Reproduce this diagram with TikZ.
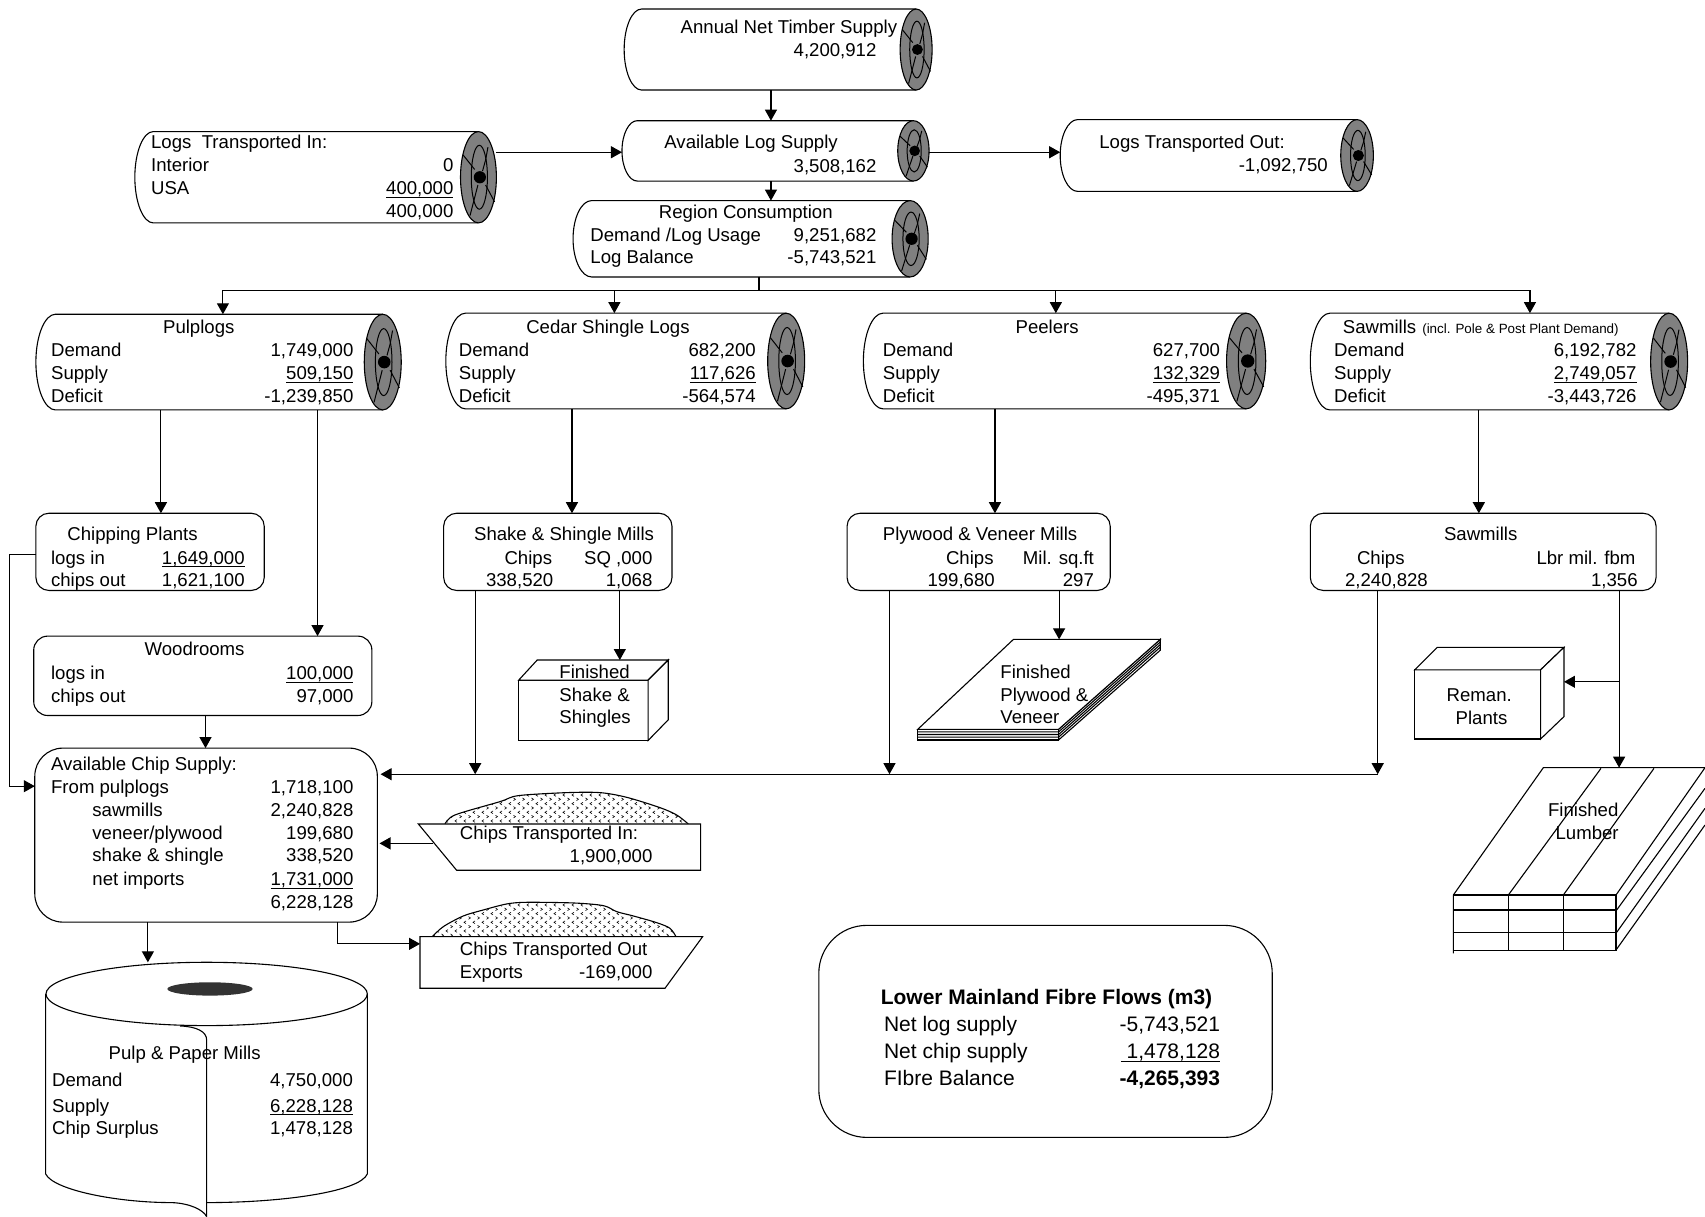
\documentclass[tikz,border=0pt]{standalone}
\usepackage{fontspec}
\setmainfont{Liberation Sans}
\usetikzlibrary{arrows.meta,fit,calc}
\newcounter{tn}
\newcommand\ul[1]{\underline{\smash{#1}}}
\newcommand\tl[3]{\stepcounter{tn}\node[txt,anchor=base west] (t\arabic{tn}) at (#1,#2+.7) {#3};}
\newcommand\tr[3]{\stepcounter{tn}\node[txt,anchor=base east] (t\arabic{tn}) at (#1,#2+.7) {#3};}
\newcommand\sumL[3]{\stepcounter{tn}\node[txtb,anchor=base west] (t\arabic{tn}) at (#1,#2+.7) {#3};}
\newcommand\sumR[3]{\stepcounter{tn}\node[txtb,anchor=base east] (t\arabic{tn}) at (#1,#2+.7) {#3};}
\newcommand\xat[2]{\coordinate (#1) at (#2,0);}
\newcommand\yat[2]{\coordinate (#1) at (0,#2);}
% name, left, top, bottom, end centre x, end half width, left curve width
\newcommand\logcyl[7]{%
  \pgfmathsetmacro\lgym{(#3+#4)/2}%
  \pgfmathsetmacro\lghh{(#4-#3)/2}%
  \draw[shp] (#5,#3) -- (#2+#7,#3) .. controls (#2+.45*#7,#3) and (#2,\lgym-.55*\lghh) .. (#2,\lgym)
     .. controls (#2,\lgym+.55*\lghh) and (#2+.45*#7,#4) .. (#2+#7,#4) -- (#5,#4);
  \draw[line width=.55pt,fill=logend] (#5,\lgym) circle[x radius=#6,y radius=\lghh];
  \begin{scope}[shift={(#5,\lgym)},xscale=#6,yscale=\lghh,line width=.5pt]
    \draw (0.05,0) circle[x radius=.45,y radius=.7];
    \draw (-.86,-.49) -- (-.21,-.17);
    \draw (.53,-.66) -- (.4,-.38) -- (.23,-.14);
    \draw (.4,.17) -- (.9,.54);
    \draw (-.03,.17) -- (-.47,.84);
  \end{scope}
  \fill (#5+.08*#6,\lgym) circle[radius=.34*#6];
  \node[fit={(#2,#3)(#5+#6,#4)},inner sep=0pt,outer sep=0pt] (#1) {};
}
\newcommand\rbox[6]{\node[draw,line width=.55pt,fill=white,rounded corners=#6,fit={(#2,#3)(#4,#5)},inner sep=0pt,outer sep=0pt] (#1) {};}
\newcommand\chipfill[2]{%
  \foreach \r in {0,...,#2}{
    \pgfmathsetmacro\yy{#1+13*\r}
    \pgfmathsetmacro\off{mod(\r,2)*13.5}
    \pgfmathtruncatemacro\sg{mod(\r,2)==0 ? 1 : -1}
    \foreach \c in {0,...,32}{
      \pgfmathsetmacro\xx{60+27*\c+\off}
      \draw[line width=.3pt] (\xx+\sg*3,\yy-4) -- (\xx-\sg*3,\yy) -- (\xx+\sg*3,\yy+4);
    }
  }
}
\definecolor{logend}{gray}{.5}
\definecolor{hole}{gray}{.2}
\tikzset{
  txt/.style={inner sep=0pt,outer sep=0pt,font=\fontsize{9.3}{11}\selectfont},
  txtb/.style={inner sep=0pt,outer sep=0pt,font=\fontsize{10.5}{12}\selectfont},
  shp/.style={line width=.55pt,fill=white},
  arr/.style={line width=.55pt,-{Triangle[length=5.5pt,width=6pt]}},
  con/.style={line width=.55pt}
}
\begin{document}
\begin{tikzpicture}[x=0.54369pt,y=-0.54369pt]
\useasboundingbox (0,0) rectangle (1568,1119.2);

% logs
\logcyl{annual}{574}{8.3}{82.8}{842.5}{14.7}{16}
\logcyl{avail}{572}{111}{166.5}{840}{14.4}{14}
\logcyl{region}{527}{184.5}{254.7}{837}{16.6}{17}
\logcyl{login}{124}{121}{205}{440}{16.5}{17}
\logcyl{logout}{975}{110}{176}{1248}{15}{16}
\logcyl{pulp}{33}{289}{377}{352}{17}{18}
\logcyl{cedar}{410}{288}{376}{723}{17}{18}
\logcyl{peel}{794}{288}{376}{1146}{18}{18}
\logcyl{sawlog}{1205}{288}{377}{1535}{17}{18}

% rounded boxes
\rbox{chipping}{33}{472}{243}{543}{6.5pt}
\rbox{shake}{408}{472}{618}{543}{6.5pt}
\rbox{ply}{779}{472}{1021}{543}{6.5pt}
\rbox{sawmill}{1205}{472}{1523}{543}{6.5pt}
\rbox{wood}{31}{585}{342}{658}{7pt}
\rbox{chipsup}{32}{688}{347}{848}{14pt}
\rbox{summary}{753}{851}{1170}{1046}{24pt}

% finished shake box
\draw[shp] (477,625.5) rectangle (596,681);
\draw[shp] (477,625.5) -- (494,607) -- (614.5,607) -- (596,625.5) -- cycle;
\draw[shp] (596,625.5) -- (614.5,607) -- (614.5,662) -- (596,681) -- cycle;
\node[fit={(477,607)(614.5,681)},inner sep=0pt,outer sep=0pt] (finshake) {};

% finished plywood sheets
\draw[shp] (844,670.7) rectangle (973.5,680.5);
\draw[shp] (973.5,670.7) -- (1067,588) -- (1067,598) -- (973.5,680.5) -- cycle;
\foreach \d in {2.4,4.8,7.2}{
  \draw[con] (844,670.7+\d) -- (973.5,670.7+\d) -- (1067,588+\d);
}
\draw[shp] (844,670.7) -- (932,588) -- (1067,588) -- (973.5,670.7) -- cycle;
\node[fit={(844,588)(1067,680.5)},inner sep=0pt,outer sep=0pt] (finply) {};

% reman
\draw[shp] (1301,616) rectangle (1416.8,679.6);
\draw[shp] (1301,616) -- (1321.7,595.3) -- (1438.3,595.3) -- (1416.8,616) -- cycle;
\draw[shp] (1416.8,616) -- (1438.3,595.3) -- (1438.3,659) -- (1416.8,679.6) -- cycle;
\node[fit={(1301,595.3)(1438.3,679.6)},inner sep=0pt,outer sep=0pt] (reman) {};

% lumber
\begin{scope}[shift={(1287.5,570.2)},scale=.30654,line width=.55pt]
  \draw (160,1000) -- (160,825) -- (430,443) -- (915,443) -- (648,825);
  \draw (325,825) -- (603,445);
  \draw (490,825) -- (762,445);
  \draw (650,870) -- (915,505);
  \draw (650,937) -- (915,565);
  \draw (648,990) -- (915,615);
  \foreach \yy in {825,870,937,991}{\draw (160,\yy) -- (650,\yy);}
  \foreach \xx in {326,491,648}{\draw (\xx,825) -- (\xx,991);}
\end{scope}
\node[fit={(1336.5,706)(1568,879)},inner sep=0pt,outer sep=0pt] (lumber) {};

% chips in
\begin{scope}[shift={(367.85,680.5)},scale=.30654]
  \def\pileA{(135,252) (165,225) (300,185) (355,167) (500,158) (600,158) (680,172) (780,203) (830,225) (865,252)}
  \begin{scope}
    \clip plot[smooth] coordinates {\pileA} -- cycle;
    \chipfill{165}{7}
  \end{scope}
  \draw[line width=.55pt] plot[smooth] coordinates {\pileA};
  \draw[shp] (55,252) -- (902,252) -- (902,391) -- (170,391) -- cycle;
  \def\pileB{(97,590) (130,560) (190,528) (250,510) (320,492) (380,487) (520,489) (610,497) (650,515) (700,528) (770,548) (810,565) (828,590)}
  \begin{scope}
    \clip plot[smooth] coordinates {\pileB} -- cycle;
    \chipfill{495}{7}
  \end{scope}
  \draw[line width=.55pt] plot[smooth] coordinates {\pileB};
  \draw[shp] (60,590) -- (908,590) -- (795,745) -- (60,745) -- cycle;
\end{scope}
\node[fit={(398.5,757.8)(644.4,800.4)},inner sep=0pt,outer sep=0pt] (chipsin) {};
\node[fit={(386.3,861)(647,909)},inner sep=0pt,outer sep=0pt] (chipsout) {};

% paper roll
\begin{scope}[shift={(0,873.6)},scale=.30654,line width=.55pt]
  \fill[white] (137,132) -- (137,672) -- (620,800) -- (1102,672) -- (1102,132) -- cycle;
  \draw (137,132) -- (137,672) .. controls (160,720) and (350,758) .. (515,758) .. controls (570,760) and (610,780) .. (620,800);
  \draw (1102,132) -- (1102,672) .. controls (1080,725) and (850,758) .. (620,758);
  \draw (620,132) circle[x radius=482,y radius=95];
  \fill[hole] (630,117) circle[x radius=128,y radius=20];
  \draw (540,228) .. controls (590,230) and (620,245) .. (620,270) -- (620,800);
\end{scope}
\node[fit={(42,885)(338,1119)},inner sep=0pt,outer sep=0pt] (paper) {};

% connector guides
\xat{xa}{709}\xat{xb}{698}\yat{ya}{140}\yat{yb}{267}
\xat{xp}{205}\xat{xc}{565}\xat{xe}{971}\xat{xs}{1407}
\xat{xd}{148}\xat{xw}{292}\xat{xf}{526}\xat{xg}{915}\xat{xh}{1360}
\xat{xi}{570}\xat{xj}{974}\xat{xk}{189}\xat{xl}{437}\xat{xm}{818}\xat{xn}{1267}
\xat{xo}{1489}\xat{xq}{136}\xat{xr}{310}\xat{xt}{9}
\yat{yc}{712}\yat{yd}{627}\yat{ye}{775.6}\yat{yf}{868}\yat{yg}{510}\yat{yh}{723}

\draw[arr] (annual.south -| xa) -- (avail.north -| xa);
\draw[arr] (avail.south -| xa) -- (region.north -| xa);
\draw[arr] (login.east |- ya) -- (avail.west |- ya);
\draw[arr] (avail.east |- ya) -- (logout.west |- ya);
\draw[con] (region.south -| xb) -- (xb |- yb);
\draw[con] (xp |- yb) -- (xs |- yb);
\draw[arr] (xp |- yb) -- (pulp.north -| xp);
\draw[arr] (xc |- yb) -- (cedar.north -| xc);
\draw[arr] (xe |- yb) -- (peel.north -| xe);
\draw[arr] (xs |- yb) -- (sawlog.north -| xs);
\draw[arr] (pulp.south -| xd) -- (chipping.north -| xd);
\draw[arr] (pulp.south -| xw) -- (wood.north -| xw);
\draw[arr] (cedar.south -| xf) -- (shake.north -| xf);
\draw[arr] (peel.south -| xg) -- (ply.north -| xg);
\draw[arr] (sawlog.south -| xh) -- (sawmill.north -| xh);
\draw[arr] (shake.south -| xi) -- (finshake.north -| xi);
\draw[arr] (ply.south -| xj) -- (finply.north -| xj);
\draw[arr] (chipping.west |- yg) -- (xt |- yg) -- (xt |- yh) -- (chipsup.west |- yh);
\draw[arr] (wood.south -| xk) -- (chipsup.north -| xk);
\draw[arr] (xn |- yc) -- ($(chipsup.east |- yc)+(3,0)$);
\draw[arr] (shake.south -| xl) -- (xl |- yc);
\draw[arr] (ply.south -| xm) -- (xm |- yc);
\draw[arr] (sawmill.south -| xn) -- (xn |- yc);
\draw[arr] (sawmill.south -| xo) -- (lumber.north -| xo);
\draw[arr] (xo |- yd) -- (reman.east |- yd);
\draw[arr] (chipsin.west |- ye) -- ($(chipsup.east |- ye)+(2,0)$);
\draw[arr] (chipsup.south -| xr) -- (xr |- yf) -- (chipsout.west |- yf);
\draw[arr] (chipsup.south -| xq) -- (paper.north -| xq);

% texts
\tr{825}{30}{Annual Net Timber Supply}
\tr{806}{51.5}{4,200,912}
\tl{611}{136}{Available Log Supply}
\tr{806}{157.6}{3,508,162}
\tl{606}{200}{Region Consumption}
\tl{543}{221}{Demand /Log Usage}
\tr{806}{221}{9,251,682}
\tl{543}{242}{Log Balance}
\tr{806}{242}{-5,743,521}

\tl{139}{136}{Logs\ \ Transported In:}
\tl{139}{157}{Interior}\tr{417}{157}{0}
\tl{139}{178}{USA}\tr{417}{178}{\ul{400,000}}
\tr{417}{199}{400,000}

\tl{1011}{136}{Logs Transported Out:}
\tr{1221}{157}{-1,092,750}

\tl{150}{306}{Pulplogs}
\tl{47}{327}{Demand}\tr{325}{327}{1,749,000}
\tl{47}{348}{Supply}\tr{325}{348}{\ul{509,150}}
\tl{47}{369}{Deficit}\tr{325}{369}{-1,239,850}

\tl{484}{306}{Cedar Shingle Logs}
\tl{422}{327}{Demand}\tr{695}{327}{682,200}
\tl{422}{348}{Supply}\tr{695}{348}{\ul{117,626}}
\tl{422}{369}{Deficit}\tr{695}{369}{-564,574}

\tl{934}{306}{Peelers}
\tl{812}{327}{Demand}\tr{1122}{327}{627,700}
\tl{812}{348}{Supply}\tr{1122}{348}{\ul{132,329}}
\tl{812}{369}{Deficit}\tr{1122}{369}{-495,371}

\tl{1235}{306}{Sawmills}
\stepcounter{tn}\node[inner sep=0pt,outer sep=0pt,anchor=base west,font=\fontsize{6.7}{8}\selectfont] (t\arabic{tn}) at (1308,306.7) {(incl. Pole \& Post Plant Demand)};
\tl{1227}{327}{Demand}\tr{1505}{327}{6,192,782}
\tl{1227}{348}{Supply}\tr{1505}{348}{\ul{2,749,057}}
\tl{1227}{369}{Deficit}\tr{1505}{369}{-3,443,726}

\tl{62}{496}{Chipping Plants}
\tl{47}{518}{logs in}\tr{225}{518}{\ul{1,649,000}}
\tl{47}{539}{chips out}\tr{225}{539}{1,621,100}

\tl{436}{496}{Shake \& Shingle Mills}
\tl{464}{518}{Chips}\tr{600}{518}{SQ ,000}
\tl{447}{539}{338,520}\tr{600}{539}{1,068}

\tl{812}{496}{Plywood \& Veneer Mills}
\tl{870}{518}{Chips}\tr{1006}{518}{Mil. sq.ft}
\tl{853}{539}{199,680}\tr{1006}{539}{297}

\tl{1328}{496}{Sawmills}
\tl{1248}{518}{Chips}\tr{1504}{518}{Lbr mil. fbm}
\tl{1237}{539}{2,240,828}\tr{1506}{539}{1,356}

\tl{133}{602}{Woodrooms}
\tl{47}{624}{logs in}\tr{325}{624}{\ul{100,000}}
\tl{47}{645}{chips out}\tr{325}{645}{97,000}

\tl{47}{708}{Available Chip Supply:}
\tl{47}{729}{From pulplogs}\tr{325}{729}{1,718,100}
\tl{85}{750}{sawmills}\tr{325}{750}{2,240,828}
\tl{85}{771}{veneer/plywood}\tr{325}{771}{199,680}
\tl{85}{792}{shake \& shingle}\tr{325}{792}{338,520}
\tl{85}{814}{net imports}\tr{325}{814}{\ul{1,731,000}}
\tr{325}{835}{6,228,128}

\tl{514.5}{623}{Finished}
\tl{514.5}{644.4}{Shake \&}
\tl{514.5}{665}{Shingles}

\tl{920}{623}{Finished}
\tl{920}{644.4}{Plywood \&}
\tl{920}{665}{Veneer}

\tl{1330.4}{644.7}{Reman.}
\tl{1338.7}{665.8}{Plants}

\tl{1423.7}{750}{Finished}
\tl{1430.6}{771.6}{Lumber}

\tl{423}{771.3}{Chips Transported In:}
\tr{600}{792.4}{1,900,000}
\tl{423}{878}{Chips Transported Out}
\tl{423}{899}{Exports}\tr{600}{899}{-169,000}

\tl{100}{974}{Pulp \& Paper Mills}
\tl{48}{998.4}{Demand}\tr{324.5}{998.4}{4,750,000}
\tl{48}{1022}{Supply}\tr{324.5}{1022}{\ul{6,228,128}}
\tl{48}{1043}{Chip Surplus}\tr{324.5}{1043}{1,478,128}

\sumL{810}{923}{\bfseries Lower Mainland Fibre Flows (m3)}
\sumL{813}{948}{Net log supply}\sumR{1122}{948}{-5,743,521}
\sumL{813}{973}{Net chip supply}\sumR{1122}{973}{\ul{\ 1,478,128}}
\sumL{813}{998}{FIbre Balance}\sumR{1122}{998}{\bfseries -4,265,393}
\end{tikzpicture}
\end{document}
